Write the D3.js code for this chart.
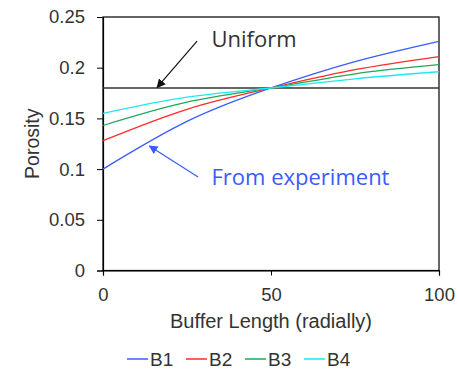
<!DOCTYPE html>
<html>
<head>
<meta charset="utf-8">
<script src="https://cdn.jsdelivr.net/npm/d3@7"></script>
<style>
  body { margin: 0; background: #fff; }
  svg { display: block; }
</style>
</head>
<body>
<div id="chart"></div>
<script>
// buffer length positions (radially) and porosity
const lengths = [0, 25, 50, 75, 100];
const b1 = [0.100, 0.147, 0.180, 0.206, 0.226];
const b2 = [0.128, 0.159, 0.180, 0.198, 0.211];
const b3 = [0.143, 0.166, 0.180, 0.194, 0.203];
const b4 = [0.155, 0.171, 0.180, 0.189, 0.196];
const uniform = 0.18;

const seriesNames = ['B1', 'B2', 'B3', 'B4'];
const seriesValues = [b1, b2, b3, b4];
const seriesColors = ['#3a5bff', '#ff2a2a', '#1fa85a', '#1ee8f0'];

const xTicks = [0, 50, 100];
const yTicks = [0, 0.05, 0.1, 0.15, 0.2, 0.25];

const width = 458;
const height = 370;
const margin = { top: 17, right: 19, bottom: 99.5, left: 103 };

const svg = d3.select('#chart')
    .append('svg')
    .attr('width', width)
    .attr('height', height);

const x = d3.scaleLinear()
    .domain([0, 100])
    .range([margin.left, width - margin.right]);

const y = d3.scaleLinear()
    .domain([0, 0.25])
    .range([height - margin.bottom, margin.top]);

const font = 'Liberation Sans, Arial, sans-serif';

// plot frame
svg.append('rect')
    .attr('x', x(0))
    .attr('y', y(0.25))
    .attr('width', x(100) - x(0))
    .attr('height', y(0) - y(0.25))
    .attr('fill', 'none')
    .attr('stroke', '#000')
    .attr('stroke-width', 1.2);

// axes
const yAxis = svg.append('g')
    .attr('transform', `translate(${x(0)},0)`)
    .call(d3.axisLeft(y).tickValues(yTicks).tickFormat(d3.format('')).tickSize(6).tickPadding(12));

const xAxis = svg.append('g')
    .attr('transform', `translate(0,${y(0)})`)
    .call(d3.axisBottom(x).tickValues(xTicks).tickSize(5).tickPadding(12));

[xAxis, yAxis].forEach(a => {
    a.select('.domain').attr('stroke', '#000').attr('stroke-width', 1.2);
    a.selectAll('.tick line').attr('stroke', '#000');
    a.selectAll('.tick text')
        .attr('fill', '#333')
        .style('font-family', font)
        .style('font-size', '18.5px');
});

// axis titles
svg.append('text')
    .attr('x', x(50))
    .attr('y', 328)
    .attr('text-anchor', 'middle')
    .attr('fill', '#333')
    .style('font-family', font)
    .style('font-size', '20px')
    .text('Buffer Length (radially)');

svg.append('text')
    .attr('transform', `translate(39,${(y(0) + y(0.25)) / 2}) rotate(-90)`)
    .attr('text-anchor', 'middle')
    .attr('fill', '#333')
    .style('font-family', font)
    .style('font-size', '19.5px')
    .text('Porosity');

// uniform porosity
svg.append('line')
    .attr('x1', x(0))
    .attr('x2', x(100))
    .attr('y1', y(uniform))
    .attr('y2', y(uniform))
    .attr('stroke', '#333')
    .attr('stroke-width', 1.5);

// experiment curves
const line = d3.line()
    .x((d, i) => x(lengths[i]))
    .y(d => y(d))
    .curve(d3.curveNatural);

svg.append('g')
    .selectAll('path')
    .data(seriesValues)
    .enter()
    .append('path')
    .attr('d', d => line(d))
    .attr('fill', 'none')
    .attr('stroke', (d, i) => seriesColors[i])
    .attr('stroke-width', 1.3);

// annotations
const defs = svg.append('defs');
[['arrowBlack', '#111'], ['arrowBlue', '#3a5bff']].forEach(([id, c]) => {
    defs.append('marker')
        .attr('id', id)
        .attr('viewBox', '0 0 10 10')
        .attr('refX', 9)
        .attr('refY', 5)
        .attr('markerWidth', 9)
        .attr('markerHeight', 9)
        .attr('markerUnits', 'userSpaceOnUse')
        .attr('orient', 'auto')
        .append('path')
        .attr('d', 'M0,0L10,5L0,10Z')
        .attr('fill', c);
});

const noteFont = 'Open Sans, Noto Sans, sans-serif';

svg.append('line')
    .attr('x1', x(28)).attr('y1', y(0.2263))
    .attr('x2', x(16.1)).attr('y2', y(0.1805))
    .attr('stroke', '#111')
    .attr('stroke-width', 1.2)
    .attr('marker-end', 'url(#arrowBlack)');

svg.append('text')
    .attr('x', x(32.3))
    .attr('y', y(0.2204))
    .attr('fill', '#333')
    .style('font-family', noteFont)
    .style('font-size', '22px')
    .text('Uniform');

svg.append('line')
    .attr('x1', x(28.3)).attr('y1', y(0.0922))
    .attr('x2', x(13.8)).attr('y2', y(0.1228))
    .attr('stroke', '#3a5bff')
    .attr('stroke-width', 1.2)
    .attr('marker-end', 'url(#arrowBlue)');

svg.append('text')
    .attr('x', x(32.3))
    .attr('y', y(0.0843))
    .attr('fill', '#3a5bff')
    .style('font-family', noteFont)
    .style('font-size', '22px')
    .text('From experiment');

// legend
const legend = svg.append('g')
    .selectAll('g')
    .data(seriesNames)
    .enter()
    .append('g')
    .attr('transform', (d, i) => `translate(${127 + i * 59},359)`);

legend.append('line')
    .attr('x1', 0)
    .attr('x2', 21)
    .attr('stroke', (d, i) => seriesColors[i])
    .attr('stroke-width', 1.5);

legend.append('text')
    .attr('x', 23)
    .attr('y', 6.5)
    .attr('fill', '#333')
    .style('font-family', font)
    .style('font-size', '19px')
    .text(d => d);
</script>
</body>
</html>
